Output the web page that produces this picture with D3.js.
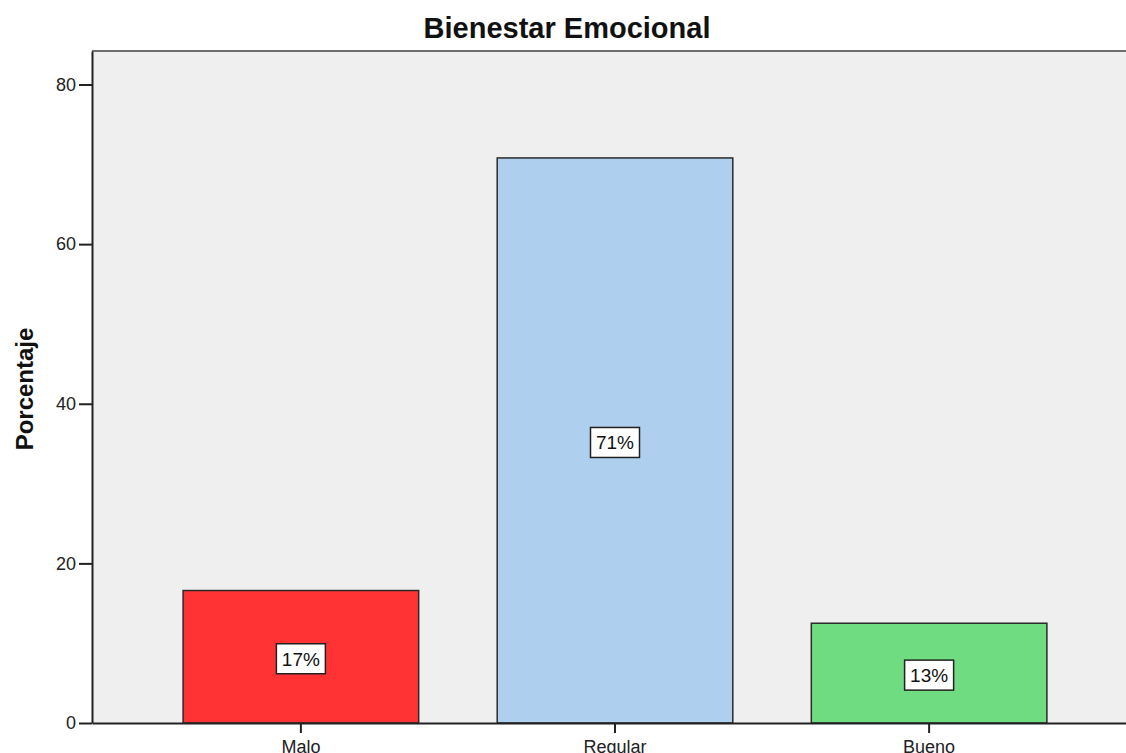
<!DOCTYPE html>
<html>
<head>
<meta charset="utf-8">
<script src="https://cdn.jsdelivr.net/npm/d3@7"></script>
<style>
  html, body { margin: 0; padding: 0; background: #fff; }
  svg { display: block; font-family: "Liberation Sans", Arial, sans-serif; }
</style>
</head>
<body>
<div id="chart"></div>
<script>
// data
const categories = ["Malo", "Regular", "Bueno"];
const percents = [16.6, 70.8, 12.5];
const barLabels = ["17%", "71%", "13%"];
const barColors = ["#ff3333", "#aecfed", "#70dc82"];
const yTicks = [0, 20, 40, 60, 80];

const width = 1126,
    height = 753,
    margin = {top: 51, left: 92, bottom: 30, right: -12}; // plot runs past the right edge

const svg = d3.select("#chart")
    .append("svg")
    .attr("width", width)
    .attr("height", height);

const plotBottom = height - margin.bottom;

const x = d3.scaleBand()
    .domain(categories)
    .range([margin.left, width - margin.right])
    .paddingInner(0.25)
    .paddingOuter(0.29);

const y = d3.scaleLinear()
    .domain([0, 84.2])
    .range([plotBottom, margin.top]);

// plot background
svg.append("rect")
    .attr("x", margin.left)
    .attr("y", margin.top)
    .attr("width", width - margin.left + 20)
    .attr("height", plotBottom - margin.top)
    .attr("fill", "#efefef");

// top frame line
svg.append("line")
    .attr("x1", margin.left).attr("x2", width)
    .attr("y1", margin.top).attr("y2", margin.top)
    .attr("stroke", "#6e6e6e")
    .attr("stroke-width", 2);

// bars
svg.append("g")
    .selectAll("rect")
    .data(categories)
    .join("rect")
    .attr("x", d => x(d))
    .attr("y", (d, i) => y(percents[i]))
    .attr("width", x.bandwidth())
    .attr("height", (d, i) => plotBottom - y(percents[i]))
    .attr("fill", (d, i) => barColors[i])
    .attr("stroke", "#2a2a2a")
    .attr("stroke-width", 1.5);

// value labels in white boxes
const labels = svg.append("g")
    .selectAll("g")
    .data(categories)
    .join("g")
    .attr("transform", (d, i) => `translate(${x(d) + x.bandwidth() / 2},${y(percents[i] / 2) + 2})`);

labels.append("rect")
    .attr("x", -24.5)
    .attr("y", -15)
    .attr("width", 49)
    .attr("height", 30)
    .attr("fill", "#fff")
    .attr("stroke", "#222")
    .attr("stroke-width", 1.5);

labels.append("text")
    .attr("text-anchor", "middle")
    .attr("dy", "0.36em")
    .attr("font-size", 19)
    .attr("fill", "#111")
    .text((d, i) => barLabels[i]);

// y axis
const yAxis = svg.append("g")
    .attr("transform", `translate(${margin.left},0)`)
    .call(d3.axisLeft(y).tickValues(yTicks).tickSize(13).tickPadding(3).tickSizeOuter(0));
yAxis.select(".domain").attr("stroke", "#222").attr("stroke-width", 2);
yAxis.selectAll(".tick line").attr("stroke", "#222").attr("stroke-width", 2);
yAxis.selectAll(".tick text")
    .attr("font-size", 18)
    .attr("fill", "#222")
    .attr("font-family", "Liberation Sans, Arial, sans-serif");

// x axis
const xAxis = svg.append("g")
    .attr("transform", `translate(0,${plotBottom})`)
    .call(d3.axisBottom(x).tickSize(10).tickPadding(7).tickSizeOuter(0));
xAxis.select(".domain").attr("stroke", "#222").attr("stroke-width", 2);
xAxis.selectAll(".tick line").attr("stroke", "#222").attr("stroke-width", 2);
xAxis.selectAll(".tick text")
    .attr("font-size", 18)
    .attr("fill", "#222")
    .attr("font-family", "Liberation Sans, Arial, sans-serif");

// title
svg.append("text")
    .attr("x", 567)
    .attr("y", 38)
    .attr("text-anchor", "middle")
    .attr("font-size", 29)
    .attr("font-weight", "bold")
    .attr("fill", "#111")
    .text("Bienestar Emocional");

// y axis title
svg.append("text")
    .attr("transform", `translate(33,${(margin.top + plotBottom) / 2 + 2}) rotate(-90)`)
    .attr("text-anchor", "middle")
    .attr("font-size", 24)
    .attr("font-weight", "bold")
    .attr("fill", "#111")
    .text("Porcentaje");
</script>
</body>
</html>
